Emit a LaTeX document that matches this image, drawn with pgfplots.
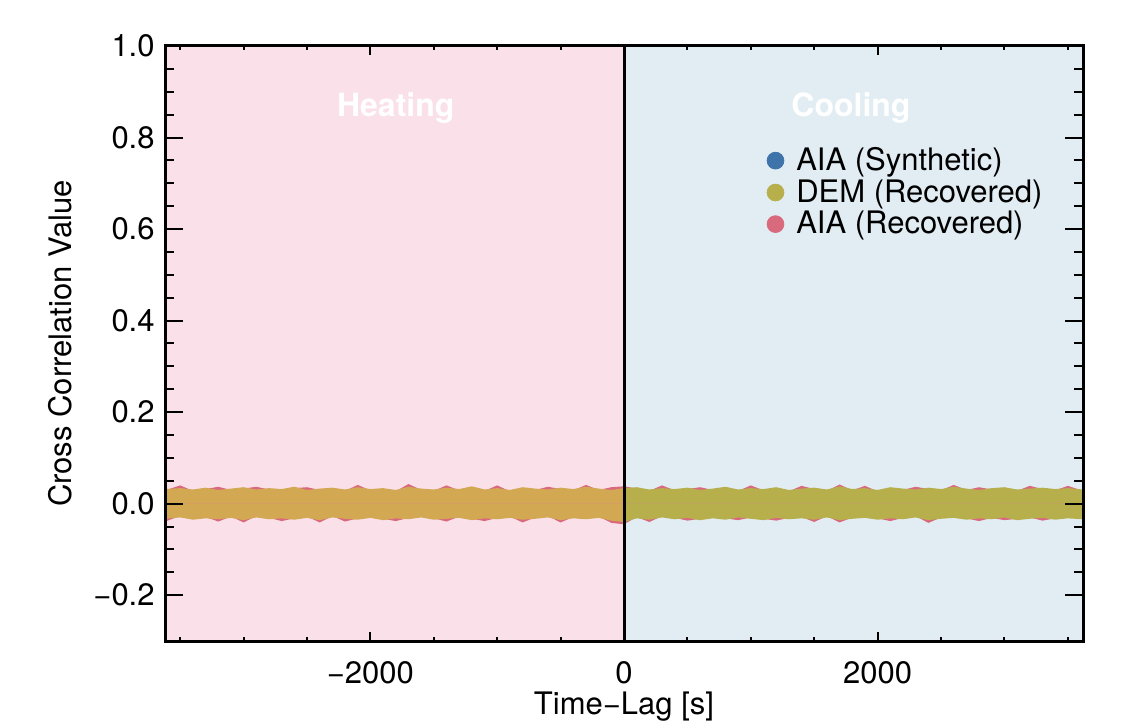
\documentclass[border=0pt]{standalone}
\usepackage{pgfplots}
\pgfplotsset{compat=1.18}
\usepackage{pgfplotstable}
\usepackage{fontspec}
\setmainfont{TeX Gyre Heros}
\definecolor{bgpink}{HTML}{FAE1E9}
\definecolor{bgblue}{HTML}{E1EDF3}
\definecolor{aiasyn}{HTML}{3F74AA}
\definecolor{demrec}{HTML}{B6AF4C}
\definecolor{aiarec}{HTML}{D96A7E}
\definecolor{tanband}{HTML}{D3A853}
\pgfplotstableread{
x pu pl tu tl
-3620 0.029 -0.039 0.032 -0.033
-3500 0.040 -0.027 0.034 -0.030
-3400 0.028 -0.032 0.031 -0.035
-3300 0.032 -0.029 0.035 -0.032
-3200 0.037 -0.039 0.030 -0.034
-3100 0.030 -0.028 0.033 -0.031
-3000 0.033 -0.041 0.036 -0.036
-2900 0.037 -0.027 0.031 -0.030
-2800 0.031 -0.031 0.034 -0.034
-2700 0.030 -0.038 0.032 -0.032
-2600 0.034 -0.032 0.037 -0.035
-2500 0.036 -0.028 0.030 -0.031
-2400 0.030 -0.041 0.033 -0.036
-2300 0.032 -0.027 0.035 -0.030
-2200 0.028 -0.039 0.031 -0.033
-2100 0.041 -0.032 0.036 -0.035
-2000 0.029 -0.028 0.032 -0.031
-1900 0.031 -0.033 0.034 -0.036
-1800 0.027 -0.038 0.030 -0.032
-1700 0.043 -0.031 0.037 -0.034
-1600 0.030 -0.027 0.033 -0.030
-1500 0.028 -0.032 0.031 -0.035
-1400 0.040 -0.039 0.035 -0.033
-1300 0.029 -0.028 0.032 -0.031
-1200 0.035 -0.033 0.038 -0.036
-1100 0.028 -0.038 0.031 -0.032
-1000 0.040 -0.031 0.034 -0.034
-900 0.027 -0.028 0.030 -0.031
-800 0.033 -0.041 0.036 -0.035
-700 0.030 -0.030 0.033 -0.033
-600 0.037 -0.027 0.031 -0.030
-500 0.032 -0.041 0.035 -0.036
-400 0.029 -0.029 0.032 -0.032
-300 0.041 -0.031 0.037 -0.034
-200 0.030 -0.028 0.033 -0.031
-100 0.036 -0.042 0.030 -0.037
0 0.038 -0.045 0.034 -0.040
100 0.033 -0.029 0.036 -0.032
200 0.028 -0.040 0.031 -0.035
300 0.040 -0.027 0.034 -0.030
400 0.029 -0.031 0.032 -0.034
500 0.032 -0.037 0.035 -0.031
600 0.036 -0.033 0.030 -0.036
700 0.030 -0.029 0.033 -0.032
800 0.034 -0.032 0.037 -0.035
900 0.028 -0.036 0.031 -0.030
1000 0.040 -0.030 0.034 -0.033
1100 0.029 -0.033 0.032 -0.036
1200 0.033 -0.037 0.036 -0.031
1300 0.027 -0.031 0.030 -0.034
1400 0.039 -0.029 0.033 -0.032
1500 0.032 -0.040 0.035 -0.035
1600 0.028 -0.027 0.031 -0.030
1700 0.042 -0.041 0.038 -0.036
1800 0.029 -0.030 0.032 -0.033
1900 0.039 -0.028 0.034 -0.031
2000 0.027 -0.032 0.030 -0.035
2100 0.033 -0.038 0.036 -0.032
2200 0.030 -0.031 0.033 -0.034
2300 0.037 -0.027 0.031 -0.030
2400 0.032 -0.042 0.035 -0.036
2500 0.029 -0.030 0.032 -0.033
2600 0.041 -0.028 0.037 -0.031
2700 0.030 -0.032 0.033 -0.035
2800 0.036 -0.038 0.030 -0.032
2900 0.031 -0.031 0.034 -0.034
3000 0.033 -0.036 0.036 -0.030
3100 0.028 -0.033 0.031 -0.036
3200 0.039 -0.030 0.033 -0.033
3300 0.032 -0.037 0.035 -0.031
3400 0.029 -0.032 0.032 -0.035
3500 0.039 -0.029 0.034 -0.032
3620 0.028 -0.031 0.031 -0.034
}\noise
\begin{document}
\begin{tikzpicture}
\begin{axis}[
  scale only axis,
  width=459pt, height=297.5pt,
  xmin=-3620, xmax=3620, ymin=-0.3, ymax=1.0,
  axis on top=true,
  axis line style={line width=1.5pt, black},
  every tick/.style={black, line width=1pt},
  xtick={-2000,0,2000},
  xticklabels={−2000,0,2000},
  minor xtick={-3500,-3000,...,3500},
  ytick={-0.2,0,0.2,0.4,0.6,0.8,1.0},
  yticklabels={−0.2,0.0,0.2,0.4,0.6,0.8,1.0},
  minor y tick num=3,
  x tick style={/pgfplots/major tick length=4.5pt,/pgfplots/minor tick length=2pt},
  y tick style={/pgfplots/major tick length=9pt,/pgfplots/minor tick length=4.5pt},
  tick label style={font=\fontsize{15.5}{18}\selectfont},
  xticklabel style={inner sep=0pt, yshift=-10pt},
  yticklabel style={inner sep=0pt, xshift=-5pt},
  label style={font=\fontsize{15.5}{18}\selectfont},
  xlabel={Time−Lag [s]},
  xlabel style={at={(axis description cs:0.5,-0.111)}, anchor=center},
  ylabel={Cross Correlation Value},
  ylabel style={at={(axis description cs:-0.1144,0.5)}, anchor=center},
  legend image code/.code={\fill[#1] (0pt,0pt) circle (4.2pt);},
  legend style={at={(axis description cs:0.655,0.835)}, anchor=north west,
    draw=none, fill=none, font=\fontsize{15.5}{16}\selectfont,
    inner sep=0pt, row sep=0pt, column sep=4.5pt, nodes={inner sep=1.5pt}},
  legend cell align=left,
]
\addplot[forget plot, draw=none, fill=bgpink] coordinates {(-3620,-0.3) (0,-0.3) (0,1) (-3620,1)} --cycle;
\addplot[forget plot, draw=none, fill=bgblue] coordinates {(0,-0.3) (3620,-0.3) (3620,1) (0,1)} --cycle;
% AIA (Recovered) band
\addplot[forget plot, draw=none, fill=aiarec] table[x=x,y=pu]{\noise} \closedcycle;
\addplot[forget plot, draw=none, fill=aiarec] table[x=x,y=pl]{\noise} \closedcycle;
% DEM (Recovered) band, heating side
\addplot[forget plot, draw=none, fill=tanband, restrict x to domain=-3620:0] table[x=x,y=tu]{\noise} \closedcycle;
\addplot[forget plot, draw=none, fill=tanband, restrict x to domain=-3620:0] table[x=x,y=tl]{\noise} \closedcycle;
% DEM (Recovered) band, cooling side
\addplot[forget plot, draw=none, fill=demrec, restrict x to domain=0:3620] table[x=x,y=tu]{\noise} \closedcycle;
\addplot[forget plot, draw=none, fill=demrec, restrict x to domain=0:3620] table[x=x,y=tl]{\noise} \closedcycle;
\addplot[forget plot, black, line width=1.5pt] coordinates {(0,-0.3) (0,1)};
\node[white, font=\bfseries\fontsize{16}{18}\selectfont] at (axis cs:-1800,0.865) {Heating};
\node[white, font=\bfseries\fontsize{16}{18}\selectfont] at (axis cs:1790,0.865) {Cooling};
\addlegendimage{aiasyn}
\addlegendentry{AIA (Synthetic)}
\addlegendimage{demrec}
\addlegendentry{DEM (Recovered)}
\addlegendimage{aiarec}
\addlegendentry{AIA (Recovered)}
\coordinate (A) at (rel axis cs:0,0);
\coordinate (B) at (rel axis cs:1,1);
\end{axis}
\pgfresetboundingbox
\path[use as bounding box] ([xshift=-82.5pt,yshift=-40pt]A) rectangle ([xshift=29pt,yshift=23pt]B);
\end{tikzpicture}
\end{document}
